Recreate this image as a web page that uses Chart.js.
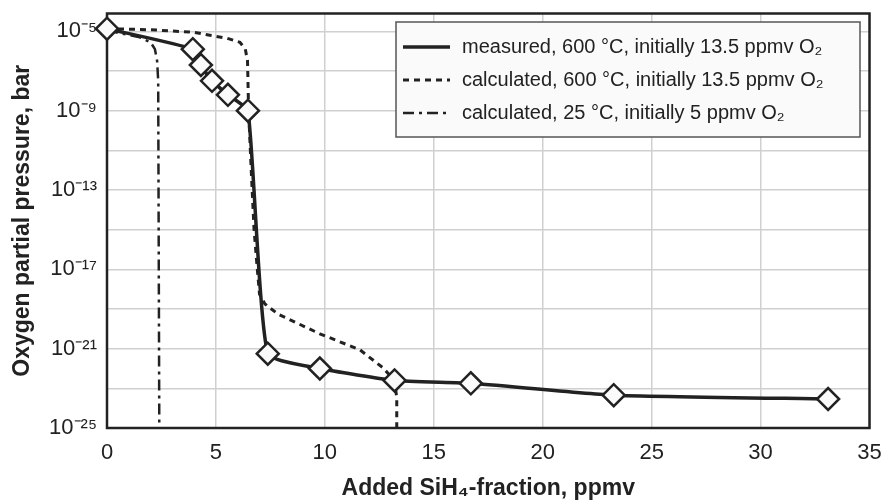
<!DOCTYPE html>
<html>
<head>
<meta charset="utf-8">
<script src="https://cdn.jsdelivr.net/npm/chart.js@4.4.1/dist/chart.umd.min.js"></script>
<style>
  html, body { margin: 0; padding: 0; background: #fff; }
</style>
</head>
<body>
<canvas id="chart" width="883" height="502"></canvas>
<script>
// measured points (diamonds)
const measuredX = [0, 3.94, 4.31, 4.82, 5.55, 6.47, 7.38, 9.77, 13.2, 16.7, 23.26, 33.1];
const measuredY = [1.35e-5, 1.26e-6, 2.0e-7, 3.2e-8, 6.3e-9, 1.0e-9, 5.6e-22, 1.0e-22, 2.5e-23, 1.8e-23, 4.5e-24, 2.9e-24];

// calculated, 600 °C
const calc600X = [0, 2.0, 4.0, 4.72, 5.5, 6.1, 6.35, 6.45, 6.5, 6.62, 6.75, 6.9, 7.0, 7.25, 7.84, 9.77, 11.6, 12.66, 13.2, 13.3, 13.3];
const calc600Y = [1.35e-5, 1.2e-5, 8.9e-6, 6.3e-6, 4.5e-6, 2.8e-6, 1.26e-6, 3.2e-7, 1e-9, 1e-12, 1e-15, 1e-17, 5.6e-19, 1.8e-19, 5.6e-20, 5.6e-21, 8.9e-22, 1.1e-22, 2.5e-23, 3.2e-24, 1e-25];

// calculated, 25 °C
const calc25X = [0, 1.5, 2.0, 2.2, 2.3, 2.35, 2.4];
const calc25Y = [1.1e-5, 5e-6, 2.8e-6, 1.26e-6, 3.2e-7, 3.2e-8, 1e-25];

const xTicks = [0, 5, 10, 15, 20, 25, 30, 35];
const yGridExp = [-25, -23, -21, -19, -17, -15, -13, -11, -9, -7, -5];
const yLabelExp = [-25, -21, -17, -13, -9, -5];

const seriesLabels = [
  'measured, 600 °C, initially 13.5 ppmv O₂',
  'calculated, 600 °C, initially 13.5 ppmv O₂',
  'calculated, 25 °C, initially 5 ppmv O₂'
];

const FONT = '"Liberation Sans", Arial, sans-serif';
const INK = '#222222';

function pts(xs, ys) {
  return xs.map((x, i) => ({x: x, y: ys[i]}));
}

const sup = {'-': '⁻', '0': '⁰', '1': '¹', '2': '²', '3': '³', '4': '⁴', '5': '⁵', '6': '⁶', '7': '⁷', '8': '⁸', '9': '⁹'};
function pow10(e) {
  return '10' + String(e).split('').map(c => sup[c]).join('');
}

const framePlugin = {
  id: 'frame',
  beforeDatasetsDraw(chart) {
    const a = chart.chartArea, ctx = chart.ctx;
    ctx.save();
    ctx.strokeStyle = INK;
    ctx.lineWidth = 2.5;
    ctx.strokeRect(a.left, a.top, a.right - a.left, a.bottom - a.top);
    ctx.restore();
  }
};

const legendBox = {
  id: 'legendBox',
  afterDraw(chart) {
    const ctx = chart.ctx;
    const x0 = 396, y0 = 22, w = 464, h = 115;
    ctx.save();
    ctx.fillStyle = '#fafafa';
    ctx.fillRect(x0, y0, w, h);
    ctx.strokeStyle = '#555';
    ctx.lineWidth = 1.5;
    ctx.strokeRect(x0, y0, w, h);
    ctx.font = '20px ' + FONT;
    ctx.textBaseline = 'middle';
    const rows = [47, 80, 113];
    chart.data.datasets.forEach((ds, i) => {
      const y = rows[i];
      ctx.strokeStyle = INK;
      ctx.lineWidth = ds.borderWidth;
      ctx.setLineDash(ds.borderDash || []);
      ctx.beginPath();
      ctx.moveTo(403, y);
      ctx.lineTo(450, y);
      ctx.stroke();
      ctx.setLineDash([]);
      ctx.fillStyle = INK;
      ctx.fillText(ds.label, 462, y);
    });
    ctx.restore();
  }
};

const config = {
  type: 'line',
  data: {
    datasets: [{
      label: seriesLabels[0],
      data: pts(measuredX, measuredY),
      borderColor: INK,
      borderWidth: 3.5,
      tension: 0.15,
      clip: false,
      pointStyle: 'rectRot',
      pointRadius: 11,
      pointBackgroundColor: '#fafafa',
      pointBorderColor: INK,
      pointBorderWidth: 2.5
    }, {
      label: seriesLabels[1],
      data: pts(calc600X, calc600Y),
      borderColor: INK,
      borderWidth: 3,
      borderDash: [6, 5],
      pointRadius: 0,
      tension: 0
    }, {
      label: seriesLabels[2],
      data: pts(calc25X, calc25Y),
      borderColor: INK,
      borderWidth: 2.5,
      borderDash: [11, 5, 3, 5],
      pointRadius: 0,
      tension: 0
    }]
  },
  options: {
    responsive: false,
    animation: false,
    layout: {padding: {top: 10, right: 13, left: 0, bottom: 0}},
    plugins: {legend: {display: false}, tooltip: {enabled: false}},
    scales: {
      x: {
        type: 'linear',
        min: 0,
        max: 35,
        afterBuildTicks: s => { s.ticks = xTicks.map(v => ({value: v})); },
        afterFit: s => { s.height = 74; s.paddingLeft = 0; s.paddingRight = 0; },
        grid: {color: '#d0d0d0', lineWidth: 1.5, drawTicks: false},
        border: {display: false},
        ticks: {color: INK, font: {family: FONT, size: 22}, padding: 12, autoSkip: false, maxRotation: 0},
        title: {
          display: true,
          text: 'Added SiH₄-fraction, ppmv',
          color: INK,
          font: {family: FONT, size: 23, weight: 'bold'},
          padding: {top: 0, bottom: 0}
        }
      },
      y: {
        type: 'logarithmic',
        min: 1e-25,
        max: 7.9e-5,
        afterBuildTicks: s => { s.ticks = yGridExp.map(e => ({value: Math.pow(10, e)})); },
        afterFit: s => { s.width = 107; s.paddingTop = 0; s.paddingBottom = 0; },
        grid: {color: '#d0d0d0', lineWidth: 1.5, drawTicks: false},
        border: {display: false},
        ticks: {
          color: INK,
          font: {family: FONT, size: 22},
          padding: 10,
          autoSkip: false,
          callback: v => {
            const e = Math.round(Math.log10(v));
            return yLabelExp.includes(e) ? pow10(e) : '';
          }
        },
        title: {
          display: true,
          text: 'Oxygen partial pressure, bar',
          color: INK,
          font: {family: FONT, size: 23, weight: 'bold'},
          padding: {top: 9, bottom: 0}
        }
      }
    }
  },
  plugins: [framePlugin, legendBox]
};

const chart = new Chart(document.getElementById('chart'), config);
</script>
</body>
</html>
